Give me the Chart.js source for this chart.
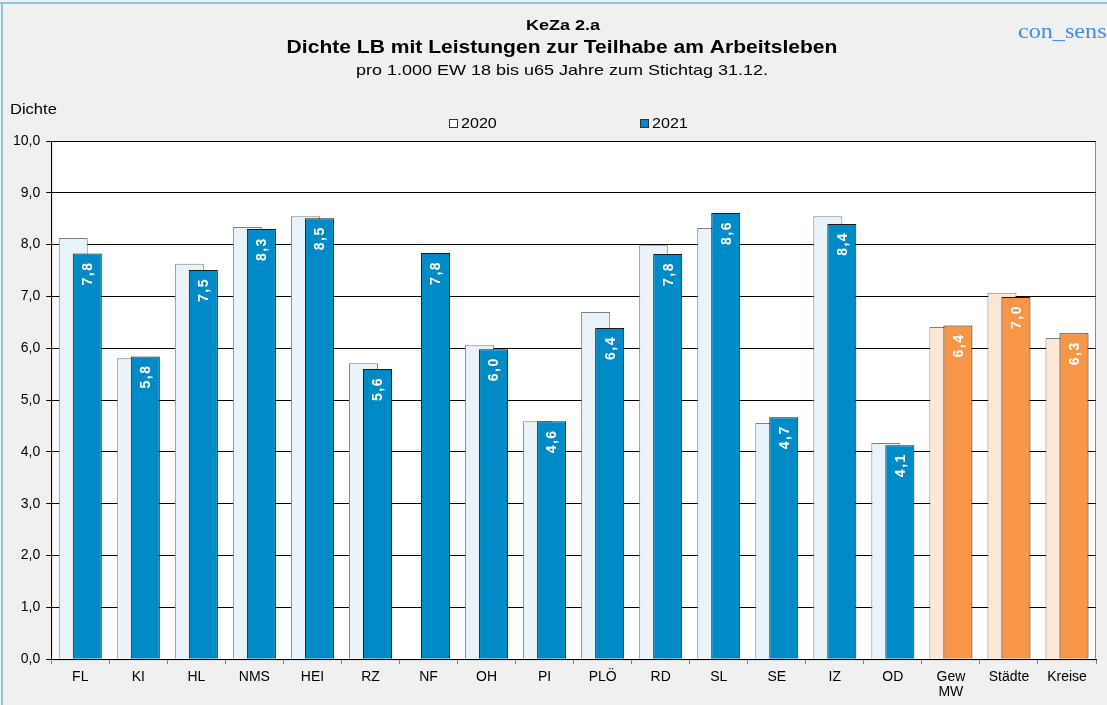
<!DOCTYPE html>
<html>
<head>
<meta charset="utf-8">
<script src="https://cdn.jsdelivr.net/npm/chart.js@4.4.1/dist/chart.umd.min.js"></script>
<style>
  html, body { margin: 0; padding: 0; background: #f0f0f0; }
  canvas { display: block; }
</style>
</head>
<body>
<canvas id="densityChart" width="1107" height="705"></canvas>
<script>
// categories (Kreise / kreisfreie Städte + Vergleichswerte)
var categories = ["FL", "KI", "HL", "NMS", "HEI", "RZ", "NF", "OH", "PI", "PLÖ",
   "RD", "SL", "SE", "IZ", "OD", ["Gew", "MW"], "Städte", "Kreise"];

// Dichte 2020 (NF ohne Wert)
var values2020 = [8.13, 5.81, 7.63, 8.34, 8.55, 5.71, null, 6.06, 4.59, 6.70,
   7.99, 8.32, 4.56, 8.55, 4.17, 6.41, 7.07, 6.20];

// Dichte 2021
var values2021 = [7.83, 5.84, 7.51, 8.30, 8.51, 5.60, 7.84, 5.98, 4.59, 6.39,
   7.82, 8.61, 4.67, 8.40, 4.13, 6.44, 6.99, 6.29];

var yTicks = [0, 1, 2, 3, 4, 5, 6, 7, 8, 9, 10];

var FONT = "'Liberation Sans', Arial, sans-serif";

function fmt(v) {
   return v.toFixed(1).replace(".", ",");
}

// the last three bars are the averages -> orange
var colors2020 = categories.map(function (c, i) { return i >= 15 ? "#fde8d8" : "#eaf2fa"; });
var colors2021 = categories.map(function (c, i) { return i >= 15 ? "#f79646" : "#008bc6"; });

// text a bit wider than the font (the original looks stretched)
function wideText(c, txt, x, y, font, align, sx) {
   c.save();
   c.font = font;
   c.textAlign = align;
   c.textBaseline = "middle";
   c.translate(x, y);
   c.scale(sx, 1);
   c.fillText(txt, 0, 0);
   c.restore();
}

var decoration = {
   id: "decoration",
   beforeDraw: function (chart) {
      var c = chart.ctx;
      var a = chart.chartArea;
      c.save();
      c.fillStyle = "#f0f0f0";
      c.fillRect(0, 0, chart.width, chart.height);
      // frame lines
      c.strokeStyle = "#8cc4e4";
      c.lineWidth = 2;
      c.beginPath();
      c.moveTo(0, 3); c.lineTo(chart.width, 3);
      c.moveTo(2, 3); c.lineTo(2, chart.height);
      c.stroke();
      // plot area
      c.fillStyle = "#ffffff";
      c.fillRect(a.left, a.top, a.right - a.left, a.bottom - a.top);
      c.strokeStyle = "#8a8a8a";
      c.lineWidth = 1;
      c.strokeRect(a.left + 0.5, a.top + 0.5, a.right - a.left - 1, a.bottom - a.top);

      c.fillStyle = "#000";
      wideText(c, "KeZa 2.a", 563, 26, "bold 15px " + FONT, "center", 1.2);
      wideText(c, "Dichte LB mit Leistungen zur Teilhabe am Arbeitsleben", 562, 48, "bold 18px " + FONT, "center", 1.17);
      wideText(c, "pro 1.000 EW 18 bis u65 Jahre zum Stichtag 31.12.", 562, 71, "15px " + FONT, "center", 1.2);
      wideText(c, "Dichte", 10, 110, "14px " + FONT, "left", 1.18);

      c.fillStyle = "#3d8fe8";
      wideText(c, "con_sens", 1018, 32, "21px 'Liberation Serif', 'Times New Roman', serif", "left", 1.15);

      // legend
      c.fillStyle = "#ffffff";
      c.fillRect(449.5, 119.5, 8, 8);
      c.strokeStyle = "#333";
      c.strokeRect(449.5, 119.5, 8, 8);
      c.fillStyle = colors2021[0];
      c.fillRect(640.5, 119.5, 8, 8);
      c.strokeRect(640.5, 119.5, 8, 8);
      c.fillStyle = "#000";
      wideText(c, "2020", 461, 124, "14px " + FONT, "left", 1.15);
      wideText(c, "2021", 652, 124, "14px " + FONT, "left", 1.15);
      c.restore();
   },
   // 2021 must lie on top of 2020: hold it back and draw it after 2020
   beforeDatasetDraw: function (chart, args) {
      if (args.index === 1 && !chart.$late) return false;
   },
   afterDatasetDraw: function (chart, args) {
      if (args.index === 0) {
         chart.$late = true;
         chart.getDatasetMeta(1).controller.draw();
         chart.$late = false;
      }
   },
   afterDatasetsDraw: function (chart) {
      var c = chart.ctx;
      var meta = chart.getDatasetMeta(1);
      c.save();
      c.fillStyle = "#ffffff";
      c.font = "bold 14px " + FONT;
      c.letterSpacing = "1.5px";
      c.textAlign = "right";
      c.textBaseline = "middle";
      meta.data.forEach(function (bar, i) {
         var v = values2021[i];
         if (v === null) return;
         c.save();
         c.translate(bar.x + 1, bar.y + 8);
         c.rotate(-Math.PI / 2);
         c.fillText(fmt(v), 0, 0);
         c.restore();
      });
      c.restore();
   }
};

var ctx = document.getElementById("densityChart").getContext("2d");
var chart = new Chart(ctx, {
   type: "bar",
   data: {
      labels: categories,
      datasets: [
         {
            label: "2020",
            data: values2020,
            backgroundColor: colors2020,
            borderColor: "#808080",
            borderWidth: 1,
            categoryPercentage: 0.483,
            barPercentage: 2.07,
         },
         {
            label: "2021",
            data: values2021,
            backgroundColor: colors2021,
            borderColor: "#1a1a1a",
            borderWidth: 1,
            categoryPercentage: 0.483,
            barPercentage: 2.07,
         },
      ],
   },
   options: {
      responsive: false,
      animation: false,
      devicePixelRatio: 1,
      layout: {
         padding: { top: 141, left: 7, right: 11, bottom: 0 },
      },
      plugins: {
         legend: { display: false },
         title: { display: false },
         tooltip: { enabled: false },
      },
      scales: {
         x: {
            grid: {
               display: true,
               drawOnChartArea: false,
               drawTicks: true,
               tickLength: 5,
               color: "#808080",
               offset: true,
            },
            border: { display: true, color: "#000" },
            ticks: {
               color: "#000",
               font: { family: FONT, size: 14, lineHeight: 1.1 },
               padding: 5,
               maxRotation: 0,
               autoSkip: false,
            },
         },
         y: {
            min: 0,
            max: 10,
            afterBuildTicks: function (axis) {
               axis.ticks = yTicks.map(function (v) { return { value: v }; });
            },
            grid: {
               color: "#000",
               tickLength: 5,
            },
            border: { display: true, color: "#000" },
            ticks: {
               color: "#000",
               font: { family: FONT, size: 14 },
               padding: 6,
               callback: function (v) { return fmt(v); },
            },
         },
      },
   },
   plugins: [decoration],
});
</script>
</body>
</html>
